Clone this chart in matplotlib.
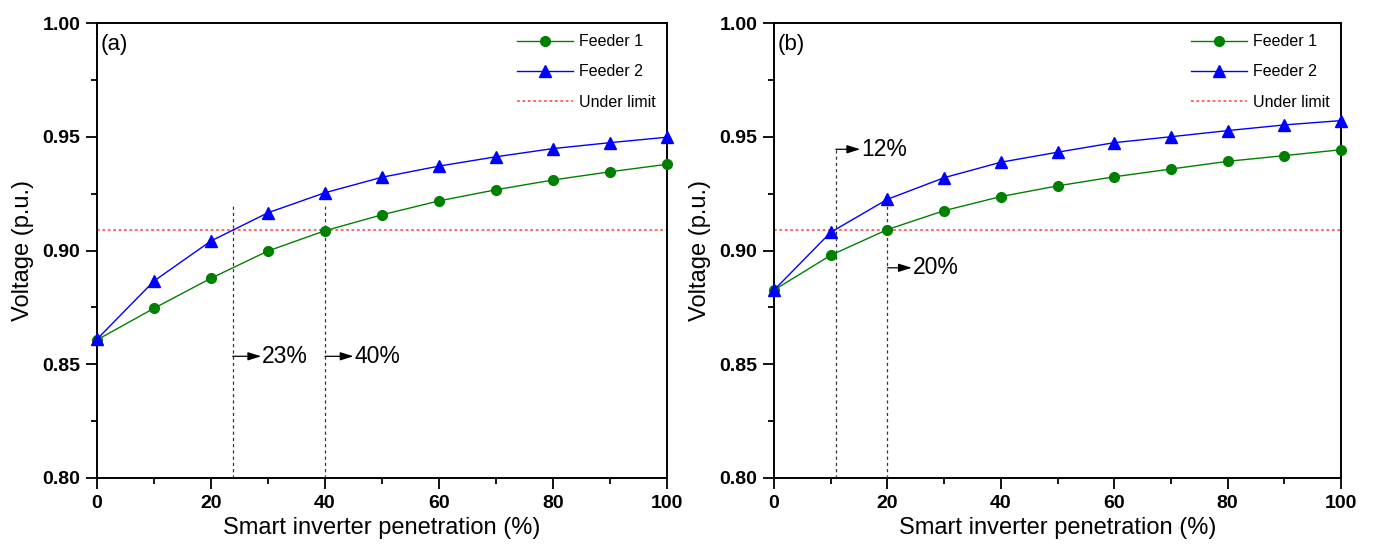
import matplotlib
matplotlib.use("Agg")
import matplotlib.pyplot as plt
from matplotlib.ticker import MultipleLocator

plt.rcParams['font.family'] = ['Liberation Sans', 'DejaVu Sans']

penetration = [0, 10, 20, 30, 40, 50, 60, 70, 80, 90, 100]

a_feeder1 = [0.8607, 0.8746, 0.8878, 0.8998, 0.9087, 0.9157, 0.9218, 0.9267, 0.9310, 0.9346, 0.9379]
a_feeder2 = [0.8610, 0.8866, 0.9042, 0.9166, 0.9254, 0.9322, 0.9371, 0.9412, 0.9448, 0.9474, 0.9498]

b_feeder1 = [0.8826, 0.8979, 0.9092, 0.9175, 0.9237, 0.9284, 0.9324, 0.9358, 0.9392, 0.9417, 0.9443]
b_feeder2 = [0.8826, 0.9080, 0.9225, 0.9320, 0.9388, 0.9432, 0.9474, 0.9500, 0.9527, 0.9552, 0.9571]

under_limit = 0.909

panel_labels = ['(a)', '(b)']
# vertical marker lines: (x, top y), annotation: (x, y, text)
a_vlines = [(23.8, 0.921), (40, 0.921)]
a_notes = [(23.8, 0.8535, '23%'), (40, 0.8535, '40%')]
b_vlines = [(10.9, 0.945), (20, 0.921)]
b_notes = [(10.9, 0.9445, '12%'), (20, 0.8924, '20%')]

fig = plt.figure(figsize=(13.73, 5.47), dpi=100)
ax_a = fig.add_axes([97 / 1373, 69 / 547, 570 / 1373, 455 / 547])
ax_b = fig.add_axes([774 / 1373, 69 / 547, 567 / 1373, 455 / 547])

panels = [
    (ax_a, a_feeder1, a_feeder2, a_vlines, a_notes, panel_labels[0], 5.0),
    (ax_b, b_feeder1, b_feeder2, b_vlines, b_notes, panel_labels[1], 4.3),
]

for ax, f1, f2, vl, notes, lab, arrow_len in panels:
    ax.plot(penetration, f1, color='#008000', marker='o', markersize=7, lw=1.0,
            label='Feeder 1', clip_on=False, zorder=4)
    ax.plot(penetration, f2, color='#0000ff', marker='^', markersize=8, lw=1.0,
            label='Feeder 2', clip_on=False, zorder=4)
    ax.axhline(under_limit, color='#ff5a5a', lw=1.3, linestyle=(0, (1.5, 1.5)),
               label='Under limit', zorder=2)
    for xv, top in vl:
        ax.plot([xv, xv], [0.80, top], color='#333333', lw=0.9,
                linestyle=(0, (2.5, 2.5)), zorder=3)
    for xv, yv, txt in notes:
        ax.annotate('', xy=(xv + arrow_len, yv), xytext=(xv, yv),
                    arrowprops=dict(arrowstyle='-|>,head_length=0.8,head_width=0.25',
                                    color='black', lw=0.9, shrinkA=0, shrinkB=0))
        ax.text(xv + arrow_len + 0.2, yv, txt, fontsize=16.5, va='center', ha='left')
    ax.text(0.006, 0.975, lab, transform=ax.transAxes, fontsize=16, va='top', ha='left')

    ax.set_xlim(0, 100)
    ax.set_ylim(0.80, 1.00)
    ax.xaxis.set_major_locator(MultipleLocator(20))
    ax.xaxis.set_minor_locator(MultipleLocator(10))
    ax.yaxis.set_major_locator(MultipleLocator(0.05))
    ax.yaxis.set_minor_locator(MultipleLocator(0.025))
    ax.tick_params(which='major', direction='out', length=8, width=1.3,
                   labelsize=14, pad=4)
    ax.tick_params(which='minor', direction='out', length=4.5, width=1.3)
    ax.yaxis.set_major_formatter(matplotlib.ticker.FormatStrFormatter('%.2f'))
    for t in ax.get_xticklabels() + ax.get_yticklabels():
        t.set_fontweight('bold')
    for s in ax.spines.values():
        s.set_linewidth(1.4)
    ax.set_xlabel('Smart inverter penetration (%)', fontsize=17, labelpad=4)
    ax.set_ylabel('Voltage (p.u.)', fontsize=17, labelpad=6)
    leg = ax.legend(loc='upper right', frameon=False, fontsize=11.5, handlelength=3.5,
                    handletextpad=0.4, labelspacing=0.95, borderaxespad=0.3)

fig.savefig('out.png', dpi=100)
